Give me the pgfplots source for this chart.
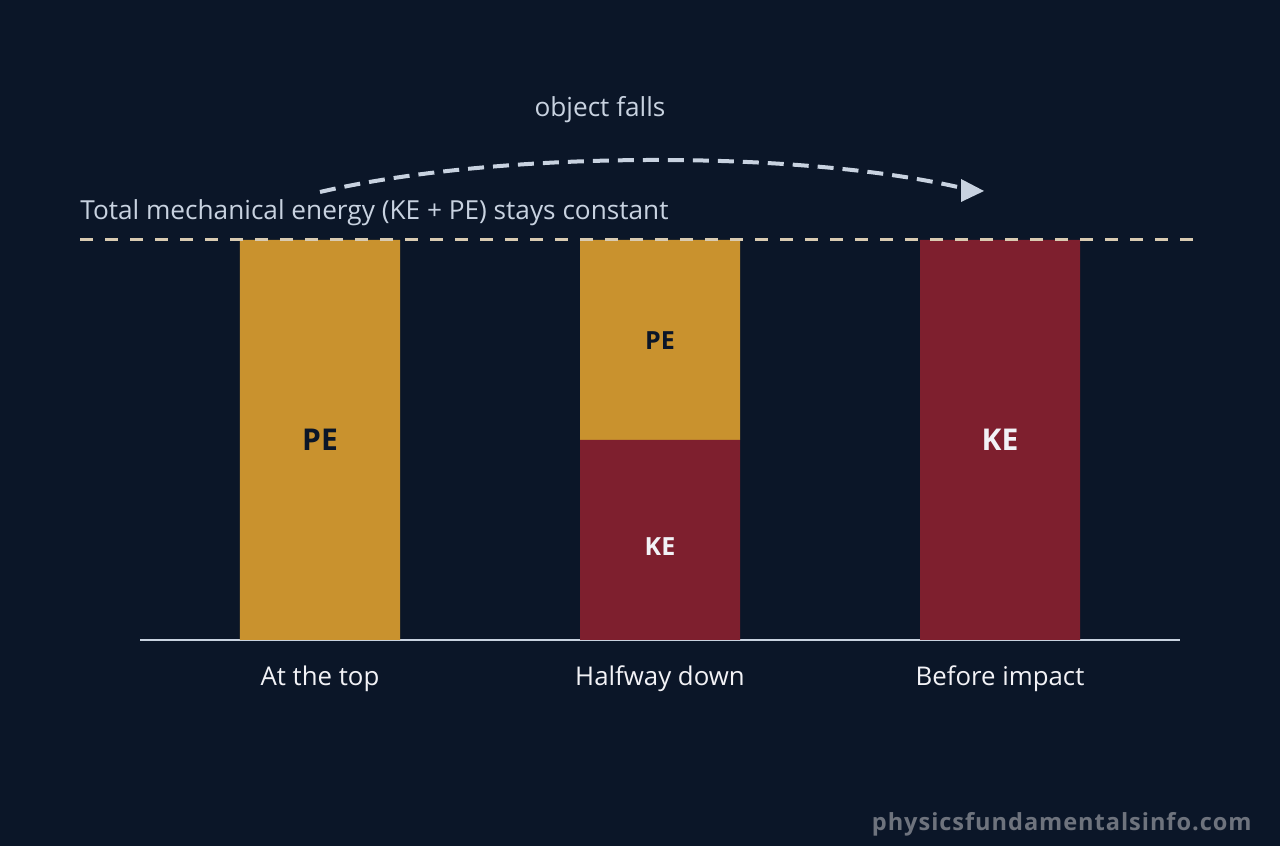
\documentclass[border=0pt]{standalone}
\usepackage{pgfplots}
\pgfplotsset{compat=1.18}
\usepackage{fontspec}
\setmainfont{Open Sans}
\newfontfamily\wmfont[LetterSpace=4]{Open Sans}
\usetikzlibrary{arrows.meta}
\definecolor{bg}{RGB}{11,22,40}
\definecolor{pecol}{RGB}{201,146,46}
\definecolor{kecol}{RGB}{126,31,46}
\definecolor{softtext}{RGB}{200,210,224}
\definecolor{dashline}{RGB}{217,203,178}
\definecolor{labeltext}{RGB}{242,242,246}
\definecolor{wmgray}{RGB}{110,115,125}
\begin{document}
\begin{tikzpicture}
% background, 1px = 0.5pt
\fill[bg] (0,0) rectangle (640pt,423pt);
\begin{axis}[
  at={(70pt,103pt)}, anchor=south west,
  scale only axis, width=520pt, height=200pt,
  xmin=-0.5294, xmax=2.5294, ymin=0, ymax=100,
  ybar stacked, bar width=80pt,
  axis x line=bottom, axis y line=none,
  x axis line style={draw=softtext, line width=0.6pt, -},
  xtick=data, xticklabels={At the top, Halfway down, Before impact},
  major tick length=0pt,
  xticklabel style={font=\fontsize{12.9}{15}\selectfont, text=labeltext, yshift=-9.5pt},
  clip=false,
]
\addplot[fill=kecol, draw=none] coordinates {(0,0) (1,50) (2,100)};
\addplot[fill=pecol, draw=none] coordinates {(0,100) (1,50) (2,0)};
\coordinate (topPE) at (axis cs:0,50);
\coordinate (halfPE) at (axis cs:1,74.8);
\coordinate (halfKE) at (axis cs:1,23.3);
\coordinate (endKE) at (axis cs:2,50);
\end{axis}
\node[font=\fontsize{15}{18}\selectfont\bfseries, text=bg] at (topPE) {PE};
\node[font=\fontsize{12.5}{15}\selectfont\bfseries, text=bg] at (halfPE) {PE};
\node[font=\fontsize{12.5}{15}\selectfont\bfseries, text=labeltext] at (halfKE) {KE};
\node[font=\fontsize{15}{18}\selectfont\bfseries, text=labeltext] at (endKE) {KE};
\begin{scope}[shift={(0,423pt)}, x=0.5pt, y=-0.5pt]
\draw[dashline, line width=1.5pt, dash pattern=on 6.5pt off 6pt] (80,240) -- (1200,240);
\node[anchor=base west, inner sep=0, font=\fontsize{13.1}{15}\selectfont, text=softtext] at (80,220) {Total mechanical energy (KE + PE) stays constant};
\node[anchor=center, inner sep=0, font=\fontsize{13.1}{15}\selectfont, text=softtext] at (600,110) {object falls};
\draw[softtext, line width=2pt, dash pattern=on 8pt off 4.5pt] (320,192) .. controls (500,150) and (800,150) .. (962,188);
\fill[softtext] (984,191) -- (961,179) -- (961,202) -- cycle;
\node[anchor=east, inner sep=0, font=\wmfont\fontsize{11.8}{14}\selectfont\bfseries, text=wmgray] at (1252,824) {physicsfundamentalsinfo.com};
\end{scope}
\end{tikzpicture}
\end{document}
